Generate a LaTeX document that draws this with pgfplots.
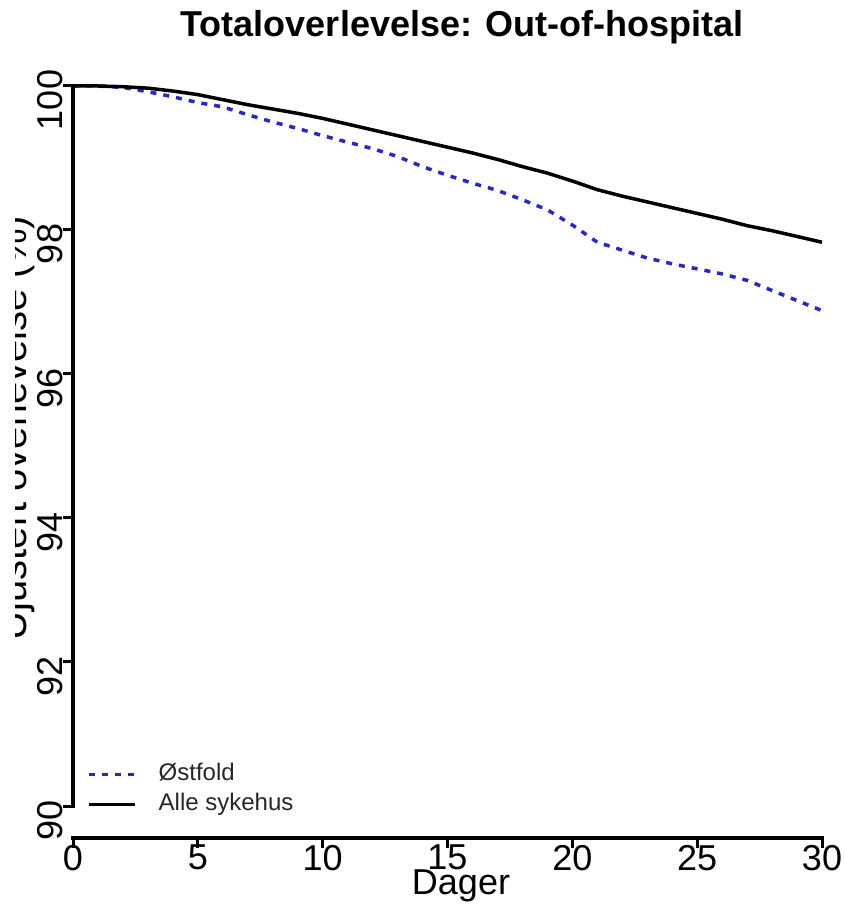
\documentclass[border=0pt]{standalone}
\usepackage{pgfplots}
\pgfplotsset{compat=1.18}
\usepackage{fontspec}
\setmainfont{Liberation Sans}
\definecolor{ostblue}{RGB}{40,40,190}
\begin{document}
\begin{tikzpicture}
\begin{scope}
\clip (0,0) rectangle (844pt,905pt);
\begin{axis}[
  at={(73pt,67pt)}, anchor=south west,
  scale only axis, width=749pt, height=752pt,
  xmin=0, xmax=30, ymin=89.5556, ymax=100,
  clip=false,
  axis line style={draw=none},
  tick pos=left, tick align=outside,
  major tick length=10pt,
  every tick/.style={black, line width=3pt},
  xtick={0,5,...,30}, ytick={90,92,...,100},
  /pgf/number format/assume math mode=true,
  xticklabel style={font=\fontsize{36}{40}\selectfont, inner sep=0pt, yshift=3pt},
  yticklabel style={font=\fontsize{36}{40}\selectfont, rotate=90, anchor=south, inner sep=0pt, xshift=-14pt},
  legend style={at={(axis cs:0.55,89.84)}, anchor=south west, draw=none, fill=none,
    font=\fontsize{24}{28}\selectfont, text=black!85, inner sep=0pt,
    nodes={text height=17pt, text depth=5pt, inner sep=2pt},
    row sep=4pt},
  legend cell align=left,
  legend image code/.code={\draw[#1] (0pt,0pt) -- (46pt,0pt); \path[draw=none] (0pt,0pt) -- (68pt,0pt);},
]
\draw[line width=3.5pt, line cap=rect] (axis cs:0,90) -- (axis cs:0,100);
\draw[line width=3.5pt, line cap=rect] (axis cs:0,89.5556) -- (axis cs:30,89.5556);
\addplot[ostblue, line width=3.5pt, dash pattern=on 6pt off 7pt] coordinates {
(0,100) (1,100) (2,99.98) (3,99.92) (4,99.85) (5,99.77) (6,99.71) (7,99.60) (8,99.50) (9,99.41)
(10,99.31) (11,99.22) (12,99.13) (13,99.02) (14,98.88) (15,98.76) (16,98.65) (17,98.55) (18,98.42)
(19,98.28) (20,98.07) (21,97.83) (22,97.72) (23,97.61) (24,97.53) (25,97.46) (26,97.39) (27,97.30)
(28,97.16) (29,97.02) (30,96.88)};
\addlegendentry{Østfold}
\addplot[black, line width=3.5pt] coordinates {
(0,100) (1,100) (2,99.99) (3,99.97) (4,99.93) (5,99.88) (6,99.81) (7,99.74) (8,99.68) (9,99.62)
(10,99.55) (11,99.47) (12,99.39) (13,99.31) (14,99.23) (15,99.15) (16,99.07) (17,98.98) (18,98.88)
(19,98.79) (20,98.68) (21,98.56) (22,98.47) (23,98.39) (24,98.31) (25,98.23) (26,98.15) (27,98.06)
(28,97.99) (29,97.91) (30,97.83)};
\addlegendentry{Alle sykehus}
\end{axis}
\node[font=\fontsize{36}{40}\selectfont\bfseries, anchor=base] at (462pt,868pt) {Totaloverlevelse: Out-of-hospital};
\node[font=\fontsize{36}{40}\selectfont, anchor=base] at (461pt,10pt) {Dager};
\begin{scope}
\clip (15pt,0pt) rectangle (844pt,905pt);
\node[font=\fontsize{40}{44}\selectfont, rotate=90, anchor=base] at (26pt,477pt) {Ujustert overlevelse (\%)};
\end{scope}
\end{scope}
\pgfresetboundingbox
\useasboundingbox (0,0) rectangle (844pt,905pt);
\end{tikzpicture}
\end{document}
